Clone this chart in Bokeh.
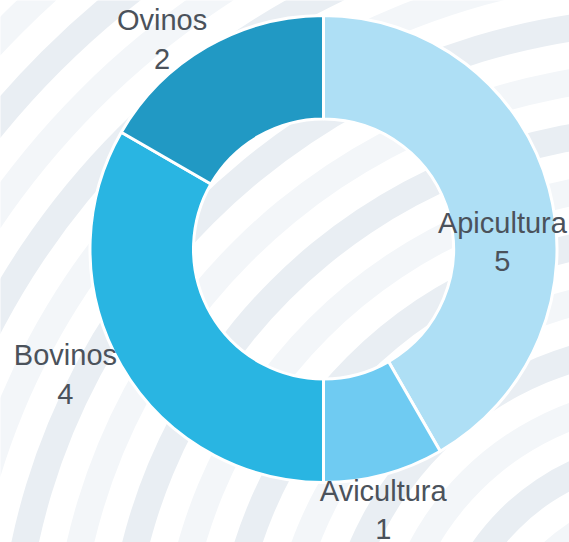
import numpy as np
from bokeh.plotting import figure
from bokeh.models import Range1d, ColumnDataSource
from bokeh.core.properties import value
from bokeh.embed import file_html
from bokeh.resources import INLINE

# ---- data ----
categories = ["Apicultura", "Avicultura", "Bovinos", "Ovinos"]
counts = [5, 1, 4, 2]
colors = ["#AEDFF5", "#6FCBF2", "#29B5E2", "#2199C4"]

# ---- layout (screen px mapped to data units) ----
W, H = 569, 542
p = figure(width=W, height=H, output_backend="svg", toolbar_location=None,
           x_range=Range1d(0, W), y_range=Range1d(0, H),
           min_border=0, outline_line_color=None)
p.axis.visible = False
p.grid.visible = False
p.background_fill_color = "white"
p.border_fill_color = "white"

# decorative background rings
bg_cx, bg_cy = 670, H - 680
ring_w = 27
ks = np.arange(-8, 11)
ring_mid = 552 + 54 * ks
ring_cols = ["#E9EEF3" if k % 2 == 0 else "#F3F6F9" for k in ks]
p.annulus(x=[bg_cx] * len(ks), y=[bg_cy] * len(ks),
          inner_radius=list(ring_mid - ring_w / 2), outer_radius=list(ring_mid + ring_w / 2),
          fill_color=ring_cols, line_color=None)

# donut
cx, cy = 323, H - 248.5
r_in, r_out = 130, 233.5
total = sum(counts)
frac = np.array(counts) / total
cum = np.concatenate([[0], np.cumsum(frac)]) * 2 * np.pi  # clockwise from top
start = np.pi / 2 - cum[1:]
end = np.pi / 2 - cum[:-1]
src = ColumnDataSource(dict(start=start, end=end, color=colors, cat=categories))
p.annular_wedge(x=cx, y=cy, inner_radius=r_in, outer_radius=r_out,
                start_angle="start", end_angle="end", fill_color="color",
                line_color="white", line_width=3, source=src)

# labels
mid = (cum[:-1] + cum[1:]) / 2
label_r = [179, 267.5, 287, 264.5]
label_da = np.radians([12.8, 2.1, 4.05, -7.63])
ang = mid + label_da
lx = cx + np.array(label_r) * np.sin(ang)
ly = cy + np.array(label_r) * np.cos(ang)
texts = [f"{c}\n{v}" for c, v in zip(categories, counts)]
p.text(x=lx, y=ly, text=texts, text_align="center", text_baseline="middle",
       text_font=value("Liberation Sans"), text_font_size="29px",
       text_color="#4B525B", text_line_height=1.2)

open("out.html", "w").write(file_html(p, INLINE))
